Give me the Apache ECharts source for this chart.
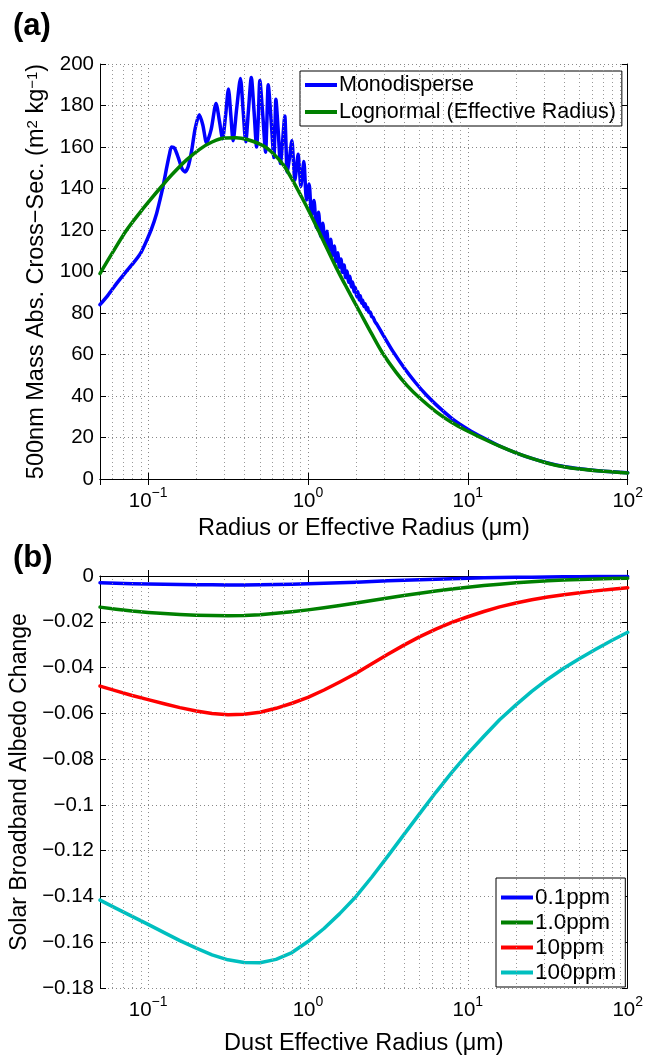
<!DOCTYPE html>
<html>
<head>
<meta charset="utf-8">
<script src="https://cdn.jsdelivr.net/npm/echarts@6/dist/echarts.min.js"></script>
<style>
html,body{margin:0;padding:0;background:#fff;}
#chart{width:646px;height:1057px;}
</style>
</head>
<body>
<div id="chart"></div>
<script>
// ---------- Panel (a) data ----------
const monoX = [0.05,0.056,0.0636,0.072,0.0807,0.09,0.098,0.105,0.113,0.119,0.124,0.131,0.136,0.140,0.146,0.155,0.163,0.170,0.178,0.187,0.197,0.209,0.220,0.232,0.248,0.266,0.280,0.292,0.305,0.318,0.329,0.340,0.358,0.378,0.393,0.408,0.425,0.442,0.460,0.477,0.489,0.500,0.522,0.543,0.553,0.564,0.588,0.612,0.621,0.630,0.651,0.673,0.694,0.716,0.728,0.741,0.767,0.793,0.810,0.828,0.848,0.868,0.885,0.902,0.922,0.942,
0.979,1.016,1.053,1.09,1.127,1.164,1.201,1.238,1.275,1.312,1.349,1.386,1.423,1.46,1.497,1.534,1.571,1.608,1.645,1.682,1.719,1.756,1.793,1.83,1.867,1.904,1.941,1.978,2.015,2.052,2.089,2.126,2.163,2.2,2.24,2.28,2.32,2.36,2.40,2.45,2.50,2.56,2.62,
2.7,3.0,3.4,4.0,4.7,5.5,6.5,8,10,12.5,15.8,20,25.1,31.6,39.8,50.1,70.8,100];
const monoY = [84,88.5,94.3,99.5,104,109,115,120.5,128,135,141,150.5,156.5,160,159.5,154.5,149.5,148,150.5,158,169,175.5,170.5,162,168.5,181,172,164,175,188,175.5,163,178.5,193,177.5,162.5,178.5,193.5,177,160,174,192,175,157.5,172,190,173,155,168,183,168,152,163,175,162,148,155,163,154,144,150,156.5,149,141,147,153,
134.5,142.2,127.2,134.2,121.2,128.6,116.9,123.3,113.5,119.4,110.5,115.6,107.6,112.3,104.7,109,102.1,106,99.6,103.1,97.1,100.3,94.8,97.7,92.5,95,90.2,92.4,88,90.2,86.3,88.3,84.7,86.2,83.1,84.4,81.6,82.6,80.3,80.5,78.4,77.8,75.9,
74.5,68.5,61.5,53.5,46.5,40.5,35,29,24,19.8,15.9,12.6,9.9,7.7,6.0,4.9,3.7,3.0];

const logX = [0.05,0.06,0.0734,0.0891,0.1,0.122,0.143,0.174,0.211,0.251,0.298,0.355,0.417,0.525,0.603,0.7,0.794,0.889,1.0,1.2,1.51,1.78,2.11,2.51,2.94,3.55,4.17,5.0,6.31,7.94,10,12.2,15.8,20,25.1,31.6,39.8,50.1,70.8,100];
const logY = [99,109.2,120,128.5,133.3,141.2,147.2,153.8,159,162.4,164.3,164.5,163.6,160.6,157,151.5,144.5,137.5,130,117.5,101.5,91,80.5,69.8,60.5,51.5,45,39,32.5,27.2,23,19.8,15.8,12.6,9.9,7.6,5.9,4.8,3.7,2.9];

// ---------- Panel (b) data ----------
const dustX = [0.05,0.0631,0.0794,0.1,0.126,0.158,0.2,0.251,0.316,0.398,0.501,0.631,0.794,1,1.26,1.58,2.0,2.51,3.16,3.98,5.01,6.31,7.94,10,12.6,15.8,20,25.1,31.6,39.8,50.1,63.1,79.4,100];
const ppm01 = [-0.0030,-0.0032,-0.0034,-0.0035,-0.0036,-0.0037,-0.0038,-0.0038,-0.0039,-0.0039,-0.0038,-0.0037,-0.0036,-0.0034,-0.0032,-0.0030,-0.0027,-0.0024,-0.0021,-0.0019,-0.0016,-0.0014,-0.0012,-0.0010,-0.0008,-0.0007,-0.0006,-0.0005,-0.0004,-0.0003,-0.0003,-0.0002,-0.0002,-0.0002];
const ppm1  = [-0.0136,-0.0145,-0.0153,-0.0159,-0.0164,-0.0168,-0.0171,-0.0173,-0.0174,-0.0173,-0.0169,-0.0163,-0.0156,-0.0148,-0.0139,-0.0129,-0.0118,-0.0107,-0.0096,-0.0085,-0.0075,-0.0066,-0.0057,-0.0049,-0.0042,-0.0036,-0.0030,-0.0025,-0.0021,-0.0018,-0.0015,-0.0013,-0.0011,-0.0010];
const ppm10 = [-0.0481,-0.0502,-0.0522,-0.0540,-0.0558,-0.0575,-0.0590,-0.0601,-0.0606,-0.0604,-0.0595,-0.0578,-0.0556,-0.0530,-0.0498,-0.0463,-0.0425,-0.0383,-0.0342,-0.0302,-0.0265,-0.0232,-0.0203,-0.0178,-0.0155,-0.0135,-0.0118,-0.0104,-0.0092,-0.0082,-0.0073,-0.0065,-0.0058,-0.0051];
const ppm100= [-0.1416,-0.1452,-0.1487,-0.1522,-0.1558,-0.1593,-0.1626,-0.1655,-0.1677,-0.1689,-0.1690,-0.1675,-0.1645,-0.1597,-0.1540,-0.1475,-0.1400,-0.1315,-0.1224,-0.1130,-0.1037,-0.0945,-0.0858,-0.0776,-0.0700,-0.0628,-0.0563,-0.0504,-0.0451,-0.0403,-0.0360,-0.0320,-0.0282,-0.0246];

const legendA = ['Monodisperse','Lognormal (Effective Radius)'];
const legendB = ['0.1ppm','1.0ppm','10ppm','100ppm'];
const minorGridX = [0.06,0.07,0.08,0.09,0.2,0.3,0.4,0.5,0.6,0.7,0.8,0.9,2,3,4,5,6,7,8,9,20,30,40,50,60,70,80,90];

const FONT = 'Liberation Sans, Arial, Helvetica, sans-serif';
const zip = (xs, ys) => xs.map((x, i) => [x, ys[i]]);

const supRich = {
  b: {fontSize: 20.5, fontFamily: FONT, color: '#000', lineHeight: 30},
  e: {fontSize: 14, fontFamily: FONT, color: '#000', verticalAlign: 'top', lineHeight: 30}
};
function logLabel(v) {
  const e = Math.log10(v);
  const r = Math.round(e);
  if (Math.abs(e - r) > 1e-6) return '';
  const s = (r < 0 ? '\u2212' : '') + Math.abs(r);
  return '{b|10}{e|' + s + '}';
}
function numLabel(v) {
  const s = (Math.round(v * 1e6) / 1e6).toString();
  return s.replace('-', '\u2212');
}
const gridLine = {show: true, lineStyle: {color: '#888', width: 1, type: [1, 3]}};

function xAxes(gi, name, gap) {
  return [
    {type: 'log', logBase: 10, gridIndex: gi, min: 0.05, max: 100, position: 'bottom',
     name: name, nameLocation: 'middle', nameGap: gap,
     nameTextStyle: {fontSize: 23.5, fontFamily: FONT, color: '#000'},
     axisLine: {show: true, lineStyle: {color: '#000', width: 1}},
     axisTick: {show: true, inside: true, length: 6, lineStyle: {color: '#000'}},
     axisLabel: {show: true, formatter: logLabel, rich: supRich, margin: 7, showMinLabel: false},
     splitLine: gridLine},
    {type: 'log', logBase: 10, gridIndex: gi, min: 0.05, max: 100, position: 'top',
     axisLine: {show: true, lineStyle: {color: '#000', width: 1}},
     axisTick: {show: true, inside: true, length: 6, lineStyle: {color: '#000'}},
     axisLabel: {show: false}, splitLine: {show: false}}
  ];
}
function yAxes(gi, min, max, interval, name, gap) {
  return [
    {type: 'value', gridIndex: gi, min: min, max: max, interval: interval, position: 'left',
     name: name, nameLocation: 'middle', nameGap: gap,
     nameTextStyle: {fontSize: 23, fontFamily: FONT, color: '#000',
       rich: {n: {fontSize: 23.5, fontFamily: FONT, color: '#000'}, s: {fontSize: 15, fontFamily: FONT, color: '#000', verticalAlign: 'top'}}},
     axisLine: {show: true, lineStyle: {color: '#000', width: 1}},
     axisTick: {show: true, inside: true, length: 6, lineStyle: {color: '#000'}},
     axisLabel: {fontSize: 20.5, fontFamily: FONT, color: '#000', margin: 6, formatter: numLabel},
     splitLine: gridLine},
    {type: 'value', gridIndex: gi, min: min, max: max, interval: interval, position: 'right',
     axisLine: {show: true, lineStyle: {color: '#000', width: 1}},
     axisTick: {show: true, inside: true, length: 6, lineStyle: {color: '#000'}},
     axisLabel: {show: false}, splitLine: {show: false}}
  ];
}
function minorGridSeries(xi, yi) {
  return {type: 'line', xAxisIndex: xi, yAxisIndex: yi, data: [], z: 1, silent: true,
    markLine: {silent: true, symbol: 'none', animation: false, label: {show: false},
      lineStyle: {color: '#999', width: 1, type: [1, 3]},
      data: minorGridX.map(v => ({xAxis: v}))}};
}
function lineSeries(name, xi, yi, data, color, smooth) {
  return {name: name, type: 'line', xAxisIndex: xi, yAxisIndex: yi, data: data, z: 3,
    showSymbol: false, symbol: 'none', smooth: smooth, animation: false,
    lineStyle: {color: color, width: 3.5, join: 'round', cap: 'round'}, itemStyle: {color: color}};
}
const legendBase = {orient: 'vertical', icon: 'rect', itemWidth: 32, itemHeight: 4,
  backgroundColor: '#fff', borderColor: '#000', borderWidth: 1, borderRadius: 0};

const chart = echarts.init(document.getElementById('chart'), null, {renderer: 'canvas'});
chart.setOption({
  backgroundColor: '#fff',
  animation: false,
  textStyle: {fontFamily: FONT},
  grid: [
    {left: 100, top: 64, width: 528, height: 415, containLabel: false},
    {left: 100, top: 576, width: 528, height: 414, containLabel: false}
  ],
  xAxis: [].concat(
    xAxes(0, 'Radius or Effective Radius (\u03bcm)', 38),
    xAxes(1, 'Dust Effective Radius (\u03bcm)', 44)
  ),
  yAxis: [].concat(
    yAxes(0, 0, 200, 20, '{n|500nm Mass Abs. Cross\u2212Sec. (m}{s|2}{n| kg}{s|\u22121}{n|)}', 50),
    yAxes(1, -0.18, 0, 0.02, 'Solar Broadband Albedo Change', 66)
  ),
  legend: [
    Object.assign({}, legendBase, {data: legendA, left: 300, top: 71, itemGap: 5, padding: [3, 6, 3, 5],
      textStyle: {fontSize: 21.5, fontFamily: FONT, color: '#000', padding: [0, 0, 0, -3]}}),
    Object.assign({}, legendBase, {data: legendB, left: 496, top: 878, itemGap: 2, padding: [8, 9, 3, 5],
      textStyle: {fontSize: 22.5, fontFamily: FONT, color: '#000', padding: [0, 0, 0, -3]}})
  ],
  graphic: [
    {type: 'text', left: 13, top: 11, style: {text: '(a)', font: 'bold 31px ' + FONT, fill: '#000'}},
    {type: 'text', left: 13, top: 543, style: {text: '(b)', font: 'bold 31px ' + FONT, fill: '#000'}}
  ],
  series: [
    minorGridSeries(0, 0),
    lineSeries(legendA[0], 0, 0, zip(monoX, monoY), '#0000ff', 0.25),
    lineSeries(legendA[1], 0, 0, zip(logX, logY), '#008000', 0.35),
    minorGridSeries(2, 2),
    lineSeries(legendB[0], 2, 2, zip(dustX, ppm01), '#0000ff', false),
    lineSeries(legendB[1], 2, 2, zip(dustX, ppm1), '#008000', false),
    lineSeries(legendB[2], 2, 2, zip(dustX, ppm10), '#ff0000', false),
    lineSeries(legendB[3], 2, 2, zip(dustX, ppm100), '#00bfbf', false)
  ]
});
</script>
</body>
</html>
